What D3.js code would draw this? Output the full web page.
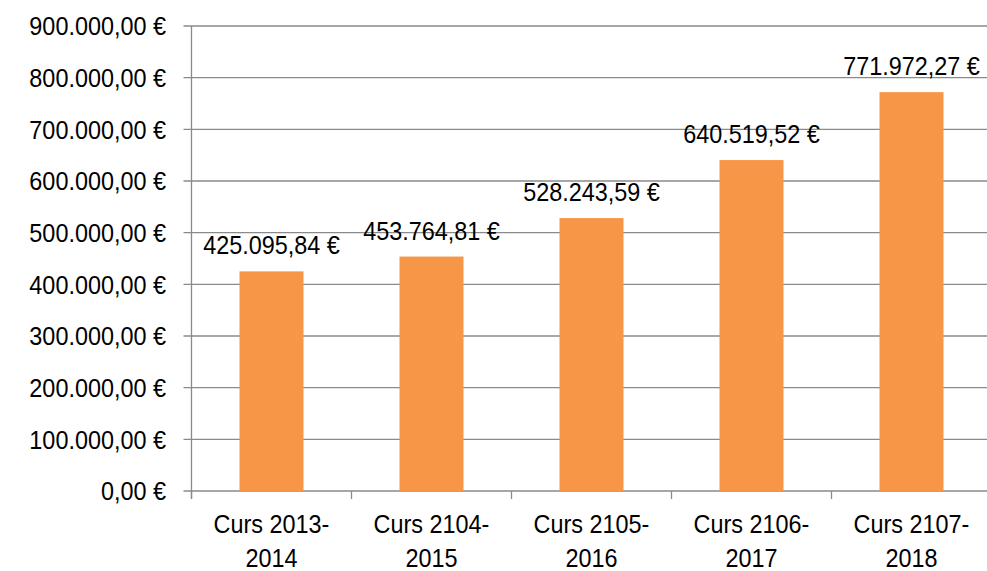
<!DOCTYPE html>
<html>
<head>
<meta charset="utf-8">
<script src="https://cdn.jsdelivr.net/npm/d3@7"></script>
<style>
  body { margin: 0; background: #ffffff; }
  text { font-family: "Liberation Sans", Arial, sans-serif; fill: #000; }
</style>
</head>
<body>
<script>
// data
var cursLine1 = ["Curs 2013-", "Curs 2104-", "Curs 2105-", "Curs 2106-", "Curs 2107-"];
var cursLine2 = ["2014", "2015", "2016", "2017", "2018"];
var imports = [425095.84, 453764.81, 528243.59, 640519.52, 771972.27];
var yTicks = [0, 100000, 200000, 300000, 400000, 500000, 600000, 700000, 800000, 900000];

// layout
var width = 987;
var height = 571;
var plotLeft = 191.5;
var plotRight = 991.5;
var plotTop = 26;
var plotBottom = 491;

var barColor = "#f79646";
var gridColor = "#8a8a8a";
var fontSize = 26;
var squeeze = 0.9; // the original font is a condensed face

var locale = d3.formatLocale({ decimal: ",", thousands: ".", grouping: [3], currency: ["", " €"] });
var euro = function (v) { return locale.format(",.2f")(v) + " €"; };

// narrow the glyphs to mimic the condensed font
function condense(sel) {
    sel.each(function () {
        var len = this.getComputedTextLength();
        d3.select(this)
            .attr("textLength", len * squeeze)
            .attr("lengthAdjust", "spacingAndGlyphs");
    });
}

var svg = d3.select("body")
    .append("svg")
    .attr("width", width)
    .attr("height", height);

var x = d3.scaleBand()
    .domain(d3.range(imports.length))
    .range([plotLeft, plotRight])
    .paddingInner(0.6)
    .paddingOuter(0.3);

var xb = d3.scaleBand()
    .domain(d3.range(imports.length))
    .range([plotLeft, plotRight]);

var y = d3.scaleLinear()
    .domain([0, 900000])
    .range([plotBottom, plotTop]);

// gridlines + y ticks
svg.append("g")
    .selectAll("line")
    .data(yTicks)
    .enter()
    .append("line")
    .attr("x1", plotLeft - 8)
    .attr("x2", plotRight)
    .attr("y1", function (d) { return y(d); })
    .attr("y2", function (d) { return y(d); })
    .attr("stroke", gridColor)
    .attr("stroke-width", 1.3);

// y axis line
svg.append("line")
    .attr("x1", plotLeft).attr("x2", plotLeft)
    .attr("y1", plotTop).attr("y2", plotBottom + 8)
    .attr("stroke", gridColor)
    .attr("stroke-width", 1.3);

// x ticks
svg.append("g")
    .selectAll("line")
    .data(d3.range(imports.length + 1))
    .enter()
    .append("line")
    .attr("x1", function (i) { return plotLeft + i * xb.step(); })
    .attr("x2", function (i) { return plotLeft + i * xb.step(); })
    .attr("y1", plotBottom)
    .attr("y2", plotBottom + 8)
    .attr("stroke", gridColor)
    .attr("stroke-width", 1.3);

// y labels
svg.append("g")
    .selectAll("text")
    .data(yTicks)
    .enter()
    .append("text")
    .attr("x", 166)
    .attr("y", function (d) { return y(d); })
    .attr("dy", "0.36em")
    .attr("text-anchor", "end")
    .style("font-size", fontSize + "px")
    .text(euro)
    .call(condense);

// bars
svg.append("g")
    .selectAll("rect")
    .data(imports)
    .enter()
    .append("rect")
    .attr("x", function (d, i) { return x(i); })
    .attr("width", x.bandwidth())
    .attr("y", function (d) { return y(d); })
    .attr("height", function (d) { return plotBottom - y(d); })
    .attr("fill", barColor);

// value labels
svg.append("g")
    .selectAll("text")
    .data(imports)
    .enter()
    .append("text")
    .attr("x", function (d, i) { return xb(i) + xb.bandwidth() / 2; })
    .attr("y", function (d) { return y(d) - 17; })
    .attr("text-anchor", "middle")
    .style("font-size", fontSize + "px")
    .text(euro)
    .call(condense);

// category labels
var cats = svg.append("g")
    .selectAll("text")
    .data(cursLine1)
    .enter()
    .append("text")
    .attr("text-anchor", "middle")
    .style("font-size", fontSize + "px");

cats.append("tspan")
    .attr("x", function (d, i) { return xb(i) + xb.bandwidth() / 2; })
    .attr("y", 533)
    .text(function (d) { return d; });

cats.append("tspan")
    .attr("x", function (d, i) { return xb(i) + xb.bandwidth() / 2; })
    .attr("y", 567)
    .text(function (d, i) { return cursLine2[i]; });

cats.selectAll("tspan").call(condense);
</script>
</body>
</html>
